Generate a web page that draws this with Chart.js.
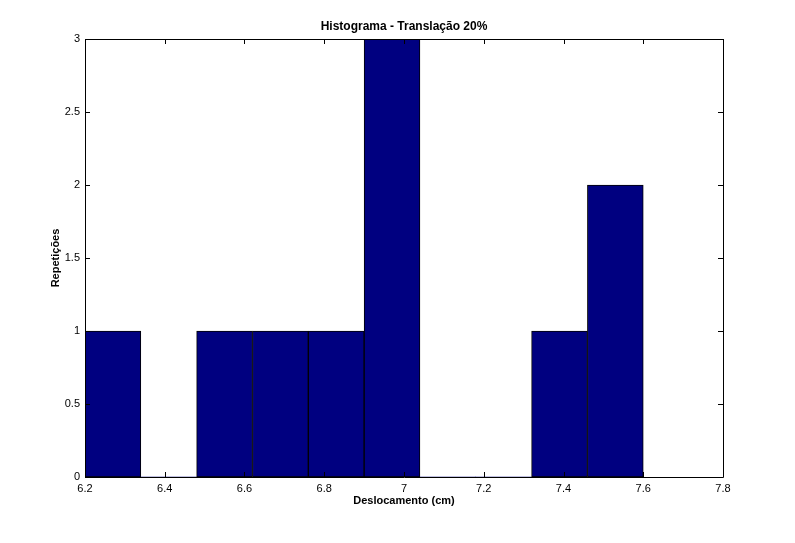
<!DOCTYPE html>
<html>
<head>
<meta charset="utf-8">
<script src="https://cdn.jsdelivr.net/npm/chart.js@4.4.0/dist/chart.umd.min.js"></script>
<style>
html,body{margin:0;padding:0;background:#fff;}
#c{display:block;}
</style>
</head>
<body>
<canvas id="c" width="795" height="543"></canvas>
<script>
// Data
const binCenters = [6.27, 6.41, 6.55, 6.69, 6.83, 6.97, 7.11, 7.25, 7.39, 7.53];
const counts = [1, 0, 1, 1, 1, 3, 0, 0, 1, 2];
const xTicks = [6.2, 6.4, 6.6, 6.8, 7.0, 7.2, 7.4, 7.6, 7.8];
const yTicks = [0, 0.5, 1, 1.5, 2, 2.5, 3];
const chartTitle = 'Histograma - Translação 20%';
const xTitle = 'Deslocamento (cm)';
const yTitle = 'Repetições';

const FONT = '"Liberation Sans", Arial, sans-serif';

const framePlugin = {
  id: 'frame',
  afterDatasetsDraw(chart) {
    const ctx = chart.ctx;
    const a = chart.chartArea;
    const xs = chart.scales.x, ys = chart.scales.y;
    ctx.save();
    ctx.strokeStyle = '#000';
    ctx.lineWidth = 1;
    ctx.beginPath();
    ctx.rect(Math.round(a.left) + 0.5, Math.round(a.top) + 0.5, Math.round(a.right - a.left), Math.round(a.bottom - a.top));
    ctx.stroke();
    const tl = 5;
    ctx.beginPath();
    xTicks.forEach(v => {
      const px = Math.round(xs.getPixelForValue(v)) + 0.5;
      ctx.moveTo(px, a.bottom); ctx.lineTo(px, a.bottom - tl);
      ctx.moveTo(px, a.top); ctx.lineTo(px, a.top + tl);
    });
    yTicks.forEach(v => {
      const py = Math.round(ys.getPixelForValue(v)) + 0.5;
      ctx.moveTo(a.left, py); ctx.lineTo(a.left + tl, py);
      ctx.moveTo(a.right, py); ctx.lineTo(a.right - tl, py);
    });
    ctx.stroke();
    // titles
    ctx.fillStyle = '#000';
    ctx.textAlign = 'center';
    ctx.textBaseline = 'middle';
    ctx.font = 'bold 12px ' + FONT;
    ctx.fillText(chartTitle, (a.left + a.right) / 2, 27);
    ctx.font = 'bold 11px ' + FONT;
    ctx.fillText(xTitle, (a.left + a.right) / 2, 501);
    ctx.translate(56, (a.top + a.bottom) / 2);
    ctx.rotate(-Math.PI / 2);
    ctx.fillText(yTitle, 0, 0);
    ctx.restore();
  }
};

new Chart(document.getElementById('c'), {
  type: 'bar',
  data: {
    datasets: [{
      data: binCenters.map((x, i) => ({ x: x, y: counts[i] })),
      backgroundColor: '#000080',
      borderColor: '#000000',
      borderWidth: ctx => (ctx.raw && ctx.raw.y > 0 ? 1 : 0),
      borderSkipped: false,
      barPercentage: 1,
      categoryPercentage: 1
    }]
  },
  options: {
    responsive: false,
    animation: false,
    layout: { padding: { left: 0, right: 72, top: 39, bottom: 0 } },
    plugins: { legend: { display: false }, title: { display: false }, tooltip: { enabled: false } },
    scales: {
      x: {
        type: 'linear',
        min: 6.2, max: 7.8,
        offset: false,
        grid: { display: false, offset: false, drawTicks: false },
        border: { display: false },
        afterBuildTicks: s => { s.ticks = xTicks.map(v => ({ value: v })); },
        afterFit: s => { s.height = 66; },
        ticks: {
          color: '#000', padding: 5, maxRotation: 0, autoSkip: false,
          font: { family: FONT, size: 11 },
          callback: v => String(Number(v.toFixed(1)))
        }
      },
      y: {
        type: 'linear',
        min: 0, max: 3,
        grid: { display: false, drawTicks: false },
        border: { display: false },
        afterBuildTicks: s => { s.ticks = yTicks.map(v => ({ value: v })); },
        afterFit: s => { s.width = 85; },
        ticks: {
          color: '#000', padding: 5, autoSkip: false,
          font: { family: FONT, size: 11 },
          callback: v => String(v)
        }
      }
    }
  },
  plugins: [framePlugin]
});
</script>
</body>
</html>
